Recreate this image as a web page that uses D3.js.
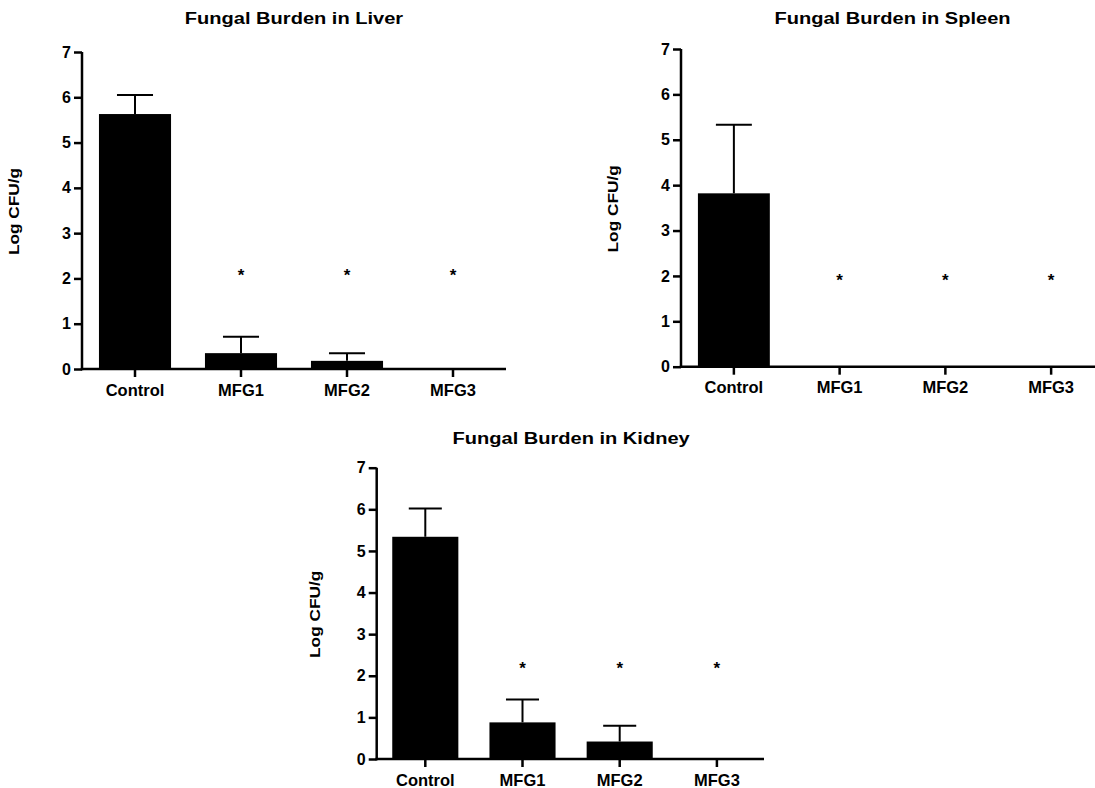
<!DOCTYPE html>
<html>
<head>
<meta charset="utf-8">
<script src="https://cdn.jsdelivr.net/npm/d3@7"></script>
<style>
  html, body { margin: 0; padding: 0; background: #fff; }
  text { font-family: Arial, "Liberation Sans", Helvetica, sans-serif; font-weight: bold; fill: #000; }
</style>
</head>
<body>
<svg id="chart" width="1095" height="788"></svg>
<script>
// data
const groups = ['Control', 'MFG1', 'MFG2', 'MFG3'];
const yTicks = [0, 1, 2, 3, 4, 5, 6, 7];

const liverMean = [5.63, 0.35, 0.18, 0];
const liverErr = [6.05, 0.71, 0.35, 0];
const liverStar = [null, 2.12, 2.12, 2.12];

const spleenMean = [3.82, 0, 0, 0];
const spleenErr = [5.33, 0, 0, 0];
const spleenStar = [null, 1.97, 1.97, 1.97];

const kidneyMean = [5.34, 0.88, 0.42, 0];
const kidneyErr = [6.02, 1.43, 0.8, 0];
const kidneyStar = [null, 2.24, 2.24, 2.24];

const svg = d3.select('#chart');

// panel boxes: left/right of the x axis, top (y=7) and bottom (y=0)
const panels = [
  { title: 'Fungal Burden in Liver', mean: liverMean, err: liverErr, star: liverStar,
    x0: 82, x1: 506, y0: 369, y1: 52, titleY: 24, yLabelX: 14, lineEnd: 506 },
  { title: 'Fungal Burden in Spleen', mean: spleenMean, err: spleenErr, star: spleenStar,
    x0: 681, x1: 1104, y0: 366.7, y1: 49, titleY: 24, yLabelX: 613, lineEnd: 1104 },
  { title: 'Fungal Burden in Kidney', mean: kidneyMean, err: kidneyErr, star: kidneyStar,
    x0: 376.7, x1: 765.5, y0: 759, y1: 467.7, titleY: 444, yLabelX: 315, lineEnd: 764 }
];

panels.forEach(p => drawPanel(p));

function drawPanel(p) {
  const x = d3.scaleBand().domain(groups).range([p.x0, p.x1]).paddingInner(0.32).paddingOuter(0.16);
  const y = d3.scaleLinear().domain([0, 7]).range([p.y0, p.y1]);
  const g = svg.append('g');
  const capW = x.bandwidth() * 0.5;

  // bars
  g.selectAll('rect.bar')
    .data(groups)
    .join('rect')
    .attr('class', 'bar')
    .attr('x', d => x(d))
    .attr('width', x.bandwidth())
    .attr('y', (d, i) => y(p.mean[i]))
    .attr('height', (d, i) => y(0) - y(p.mean[i]))
    .attr('fill', '#000');

  // upper error whiskers
  const eb = g.selectAll('g.err')
    .data(groups.filter((d, i) => p.err[i] > p.mean[i]))
    .join('g')
    .attr('class', 'err');
  eb.append('line')
    .attr('x1', d => x(d) + x.bandwidth() / 2)
    .attr('x2', d => x(d) + x.bandwidth() / 2)
    .attr('y1', d => y(p.mean[groups.indexOf(d)]))
    .attr('y2', d => y(p.err[groups.indexOf(d)]))
    .attr('stroke', '#000').attr('stroke-width', 2);
  eb.append('line')
    .attr('x1', d => x(d) + x.bandwidth() / 2 - capW / 2)
    .attr('x2', d => x(d) + x.bandwidth() / 2 + capW / 2)
    .attr('y1', d => y(p.err[groups.indexOf(d)]))
    .attr('y2', d => y(p.err[groups.indexOf(d)]))
    .attr('stroke', '#000').attr('stroke-width', 2);

  // significance stars
  g.selectAll('text.star')
    .data(groups.filter((d, i) => p.star[i] != null))
    .join('text')
    .attr('class', 'star')
    .attr('x', d => x(d) + x.bandwidth() / 2)
    .attr('y', d => y(p.star[groups.indexOf(d)]) + 8.5)
    .attr('text-anchor', 'middle')
    .style('font-size', '17px')
    .text('*');

  // axes
  const yAxis = g.append('g')
    .attr('transform', `translate(${p.x0},0)`)
    .call(d3.axisLeft(y).tickValues(yTicks).tickFormat(d3.format('d')).tickSize(8).tickSizeOuter(0).tickPadding(3));
  const xAxis = g.append('g')
    .attr('transform', `translate(0,${p.y0})`)
    .call(d3.axisBottom(x).tickSize(8).tickSizeOuter(0).tickPadding(7));

  [yAxis, xAxis].forEach(a => {
    a.select('.domain').attr('stroke', '#000').attr('stroke-width', 2.5);
    a.selectAll('.tick line').attr('stroke', '#000').attr('stroke-width', 2.5);
    a.selectAll('.tick text').style('font-size', '16px').attr('fill', '#000');
  });
  yAxis.select('.domain').attr('d', `M0,${y(0) + 1.25}V${y(7)}`);
  xAxis.select('.domain').attr('d', `M${p.x0 - 1.25},0H${p.lineEnd}`);
  xAxis.selectAll('.tick text').style('font-size', '16.5px');

  // y label
  g.append('text')
    .attr('transform', `translate(${p.yLabelX},${(p.y0 + p.y1) / 2 + 1}) rotate(-90) scale(1.15,1)`)
    .attr('text-anchor', 'middle')
    .attr('dy', '0.35em')
    .style('font-size', '15px')
    .text('Log CFU/g');

  // title
  g.append('text')
    .attr('transform', `translate(${(p.x0 + p.x1) / 2},${p.titleY}) scale(1.18,1)`)
    .attr('text-anchor', 'middle')
    .style('font-size', '17px')
    .text(p.title);
}
</script>
</body>
</html>
